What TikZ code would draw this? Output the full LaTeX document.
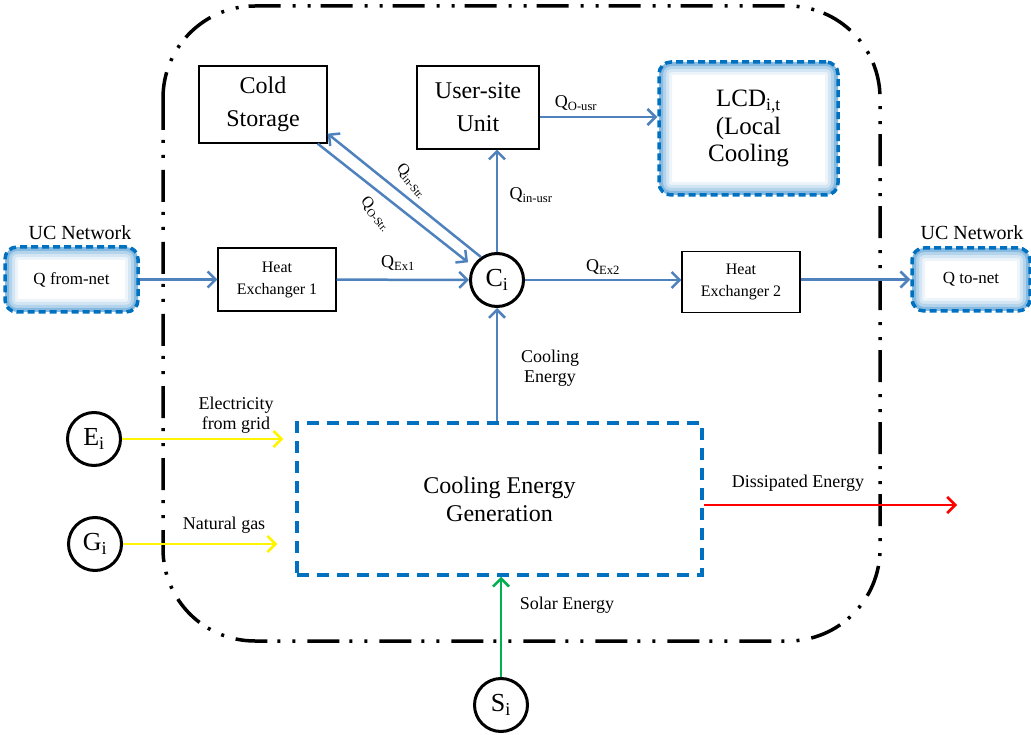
\documentclass[tikz,border=0pt]{standalone}
\usepackage{fontspec}
\setmainfont{Liberation Serif}
\usetikzlibrary{arrows.meta}
\definecolor{lineblue}{RGB}{79,129,189}
\definecolor{dashblue}{RGB}{0,112,192}
\definecolor{ylw}{RGB}{255,245,0}
\definecolor{grn}{RGB}{0,176,80}
\definecolor{rd}{RGB}{255,0,0}
\tikzset{
  outerline/.style={line width=3.5pt, black, dash pattern=on 32pt off 10pt on 3pt off 12pt on 3pt off 12pt},
  boxnode/.style={draw=black, line width=1.3pt, fill=white, align=center, inner sep=0pt},
  bigfont/.style={font=\fontsize{24}{33}\selectfont},
  hefont/.style={font=\fontsize{16}{22}\selectfont},
  lbl/.style={font=\fontsize{18}{20}\selectfont, align=center, inner sep=0pt},
  slbl/.style={font=\fontsize{16}{18}\selectfont, inner sep=0pt},
  circnode/.style={draw=black, line width=3pt, circle, fill=white, minimum size=53pt, inner sep=0pt, font=\fontsize{26}{28}\selectfont},
  glownode/.style={draw=dashblue, line width=3.5pt, dash pattern=on 7pt off 4pt, rounded corners=12pt, fill=white, align=center, inner sep=0pt,
    path picture={
      \foreach \w/\o in {26/0.07,20/0.1,14/0.15,8/0.25}{
        \draw[dashblue, opacity=\o, line width=\w pt, solid] (path picture bounding box.south west) rectangle (path picture bounding box.north east);}
    }},
  cegnode/.style={draw=dashblue, line width=3.5pt, dash pattern=on 12pt off 8pt, align=center, inner sep=0pt},
  barrow/.style={draw=lineblue, line width=2.5pt, -{Straight Barb[length=8pt,width=16pt]}},
  yarrow/.style={draw=ylw, line width=2.5pt, -{Straight Barb[length=8pt,width=16pt]}},
  garrow/.style={draw=grn, line width=2.5pt, -{Straight Barb[length=8pt,width=16pt]}},
  rarrow/.style={draw=rd, line width=2.5pt, -{Straight Barb[length=8pt,width=16pt]}},
}
\begin{document}
\begin{tikzpicture}[x=1pt,y=-1pt]
\useasboundingbox (0,0) rectangle (1031,735);
% outer boundary
\draw[outerline, rounded corners=92pt] (163,6) rectangle (880,641);

% nodes
\node[boxnode, bigfont, minimum width=128pt, minimum height=77pt] (cs) at (263,104.5) {Cold\\Storage};
\node[boxnode, bigfont, minimum width=122pt, minimum height=83pt] (us) at (478,107.5) {User-site\\Unit};
\node[glownode, font=\fontsize{25}{27.5}\selectfont, minimum width=179pt, minimum height=133pt] (lcd) at (748.5,128.5) {LCD\textsubscript{i,t}\\(Local\\Cooling};
\node[boxnode, hefont, minimum width=118pt, minimum height=63pt] (he1) at (277,279.5) {Heat\\Exchanger 1};
\node[boxnode, hefont, minimum width=118pt, minimum height=61pt] (he2) at (741,282) {Heat\\Exchanger 2};
\node[glownode, font=\fontsize{17}{20}\selectfont, minimum width=133pt, minimum height=65pt] (qf) at (71.5,279.5) {Q from-net};
\node[glownode, font=\fontsize{17}{20}\selectfont, minimum width=118pt, minimum height=63pt] (qt) at (971,279.5) {Q to-net};
\node[font=\fontsize{20}{22}\selectfont, inner sep=0pt] (ucl) at (80,233) {UC Network};
\node[font=\fontsize{20}{22}\selectfont, inner sep=0pt] (ucr) at (972,233) {UC Network};
\node[circnode] (ci) at (497,280) {C\textsubscript{i}};
\node[circnode] (ei) at (94,439) {E\textsubscript{i}};
\node[circnode] (gi) at (95,544) {G\textsubscript{i}};
\node[circnode] (si) at (501,705) {S\textsubscript{i}};
\node[cegnode, font=\fontsize{24}{28}\selectfont, minimum width=405pt, minimum height=152pt] (ceg) at (499.5,499) {Cooling Energy\\Generation};
\coordinate (dis) at (957,505);

% connectors
\draw[barrow] (qf) -- (he1);
\draw[barrow] (he1) -- (ci);
\draw[barrow] (ci) -- (ci -| he2.west);
\draw[barrow] (he2.east |- qt.west) -- (qt.west);
\draw[barrow] (ci) -- (ci |- us.south);
\draw[barrow] ([yshift=-9.5pt]us.east) -- ([yshift=-9.5pt]us.east -| lcd.west);
\draw[barrow] (ci.125) -- ([yshift=10pt]cs.south east);
\draw[barrow, shorten >=6pt] ([xshift=-10pt]cs.south east) -- (ci.150);
\draw[barrow] (ceg.north -| ci) -- (ci);
\draw[garrow] (si) -- (si |- ceg.south);
\draw[yarrow, shorten >=12pt] (ei) -- (ei -| ceg.west);
\draw[yarrow, shorten >=18pt] (gi) -- (gi -| ceg.west);
\draw[rarrow] (ceg.east |- dis) -- (dis);

% labels
\node[lbl] (lqex1) at (398,263) {Q\textsubscript{Ex1}};
\node[lbl] (lqex2) at (603,267) {Q\textsubscript{Ex2}};
\node[lbl] (lqinusr) at (531,195) {Q\textsubscript{in-usr}};
\node[lbl] (lqousr) at (576,103) {Q\textsubscript{O-usr}};
\node[slbl, rotate=-50] (lqinstr) at (412,181) {Q\textsubscript{in-Str.}};
\node[slbl, rotate=-50] (lqostr) at (376,214) {Q\textsubscript{O-Str.}};
\node[lbl] (lcool) at (550,368) {Cooling\\Energy};
\node[lbl] (lelec) at (236,415) {Electricity\\from grid};
\node[lbl] (lgas) at (224,525) {Natural gas};
\node[lbl] (ldis) at (798,483) {Dissipated Energy};
\node[lbl] (lsol) at (567,605) {Solar Energy};
\end{tikzpicture}
\end{document}
